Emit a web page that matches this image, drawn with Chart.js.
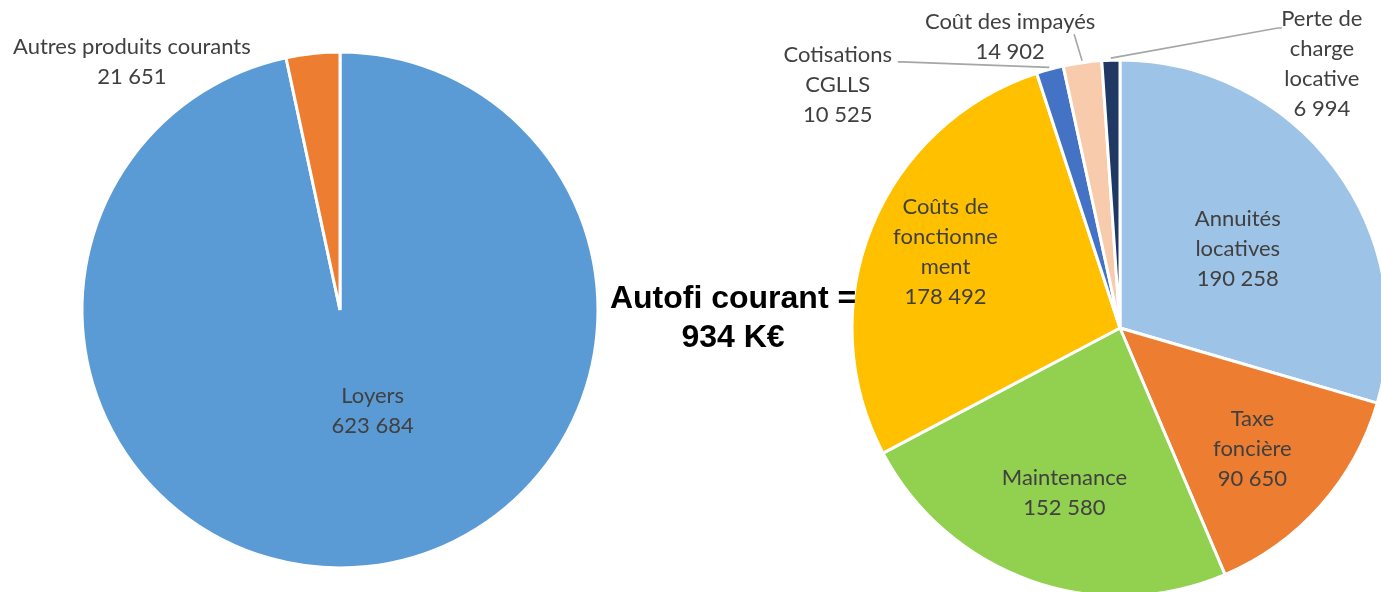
<!DOCTYPE html>
<html><head><meta charset="utf-8">
<script src="https://cdn.jsdelivr.net/npm/chart.js@4.4.0/dist/chart.umd.min.js"></script>
<style>
html,body{margin:0;padding:0;width:1381px;height:592px;overflow:hidden;background:#fff;}
#w1{position:absolute;left:0;top:0;width:680px;height:620px;}
#w2{position:absolute;left:760px;top:0;width:720px;height:656px;}
#mid{position:absolute;left:560px;top:278px;width:346px;text-align:center;font:bold 32px "Liberation Sans",Arial,sans-serif;line-height:39px;color:#000;z-index:5;}
</style></head><body>
<div id="w1"><canvas id="c1"></canvas></div>
<div id="w2"><canvas id="c2"></canvas></div>
<div id="mid">Autofi courant =<br>934 K€</div>
<script>
// ---- data ----
const leftCategories = ['Loyers', 'Autres produits courants'];
const leftValues = [623684, 21651];
const leftLines = [['Loyers'], ['Autres produits courants']];

const rightCategories = ['Annuités locatives', 'Taxe foncière', 'Maintenance', 'Coûts de fonctionnement', 'Cotisations CGLLS', 'Coût des impayés', 'Perte de charge locative'];
const rightValues = [190258, 90650, 152580, 178492, 10525, 14902, 6994];
const rightLines = [['Annuités', 'locatives'], ['Taxe', 'foncière'], ['Maintenance'], ['Coûts de', 'fonctionne', 'ment'], ['Cotisations', 'CGLLS'], ['Coût des impayés'], ['Perte de', 'charge', 'locative']];

const leftColors = ['#5B9BD5', '#ED7D31'];
const rightColors = ['#9DC3E6', '#ED7D31', '#92D050', '#FFC000', '#4472C4', '#F8CBAD', '#1F3864'];

function fmt(v) { return String(v).replace(/\B(?=(\d{3})+(?!\d))/g, ' '); }

const labelPlugin = {
  id: 'sliceLabels',
  afterDraw(chart, args, opts) {
    const ctx = chart.ctx;
    const meta = chart.getDatasetMeta(0);
    const ds = chart.data.datasets[0];
    ctx.save();
    ctx.font = opts.font;
    ctx.textAlign = 'center';
    ctx.textBaseline = 'middle';
    meta.data.forEach((arc, i) => {
      const p = arc.getProps(['x', 'y', 'startAngle', 'endAngle', 'outerRadius'], true);
      const cfg = opts.place[i];
      const mid = (p.startAngle + p.endAngle) / 2;
      const ang = cfg.angle != null ? (cfg.angle - 90) * Math.PI / 180 : mid;
      const lx = p.x + Math.cos(ang) * p.outerRadius * cfg.dist;
      const ly = p.y + Math.sin(ang) * p.outerRadius * cfg.dist;
      if (cfg.leader) {
        const ex = p.x + Math.cos(mid) * (p.outerRadius + 2);
        const ey = p.y + Math.sin(mid) * (p.outerRadius + 2);
        ctx.strokeStyle = '#A6A6A6';
        ctx.lineWidth = 1.6;
        ctx.beginPath();
        const sx = lx + cfg.leader[0], sy = ly + cfg.leader[1];
        ctx.moveTo(sx, sy);
        if (cfg.leader[2]) ctx.lineTo(sx + cfg.leader[2], sy);
        ctx.lineTo(ex, ey);
        ctx.stroke();
      }
      ctx.fillStyle = '#404040';
      const lines = opts.lines[i].concat([fmt(ds.data[i])]);
      const lh = opts.lineHeight;
      lines.forEach((t, k) => ctx.fillText(t, lx, ly + (k - (lines.length - 1) / 2) * lh));
    });
    ctx.restore();
  }
};

function makePie(id, labels, values, colors, radius, lines, place) {
  return new Chart(document.getElementById(id), {
    type: 'pie',
    data: { labels: labels, datasets: [{ data: values, backgroundColor: colors, borderColor: '#ffffff', borderWidth: 3, hoverOffset: 0, hoverBorderWidth: 3 }] },
    options: {
      responsive: true, maintainAspectRatio: false, animation: false, events: [],
      radius: radius,
      layout: { padding: 0 },
      plugins: {
        legend: { display: false }, tooltip: { enabled: false },
        sliceLabels: { font: '22px Lato', lineHeight: 30, lines: lines, place: place }
      }
    },
    plugins: [labelPlugin]
  });
}

makePie('c1', leftCategories, leftValues, leftColors, 258, leftLines, [
  { angle: 162, dist: 0.41 },
  { angle: 320, dist: 1.255 }
]);

makePie('c2', rightCategories, rightValues, rightColors, 268, rightLines, [
  { angle: 56, dist: 0.53 },
  { angle: 132.5, dist: 0.67 },
  { angle: 198.6, dist: 0.65 },
  { angle: 293.5, dist: 0.71 },
  { angle: 310.75, dist: 1.39, leader: [60, -23, 4] },
  { angle: 339.3, dist: 1.16, leader: [64, -3, 0] },
  { angle: 37.4, dist: 1.24, leader: [-40, -36, -4] }
]);
</script>
</body></html>
